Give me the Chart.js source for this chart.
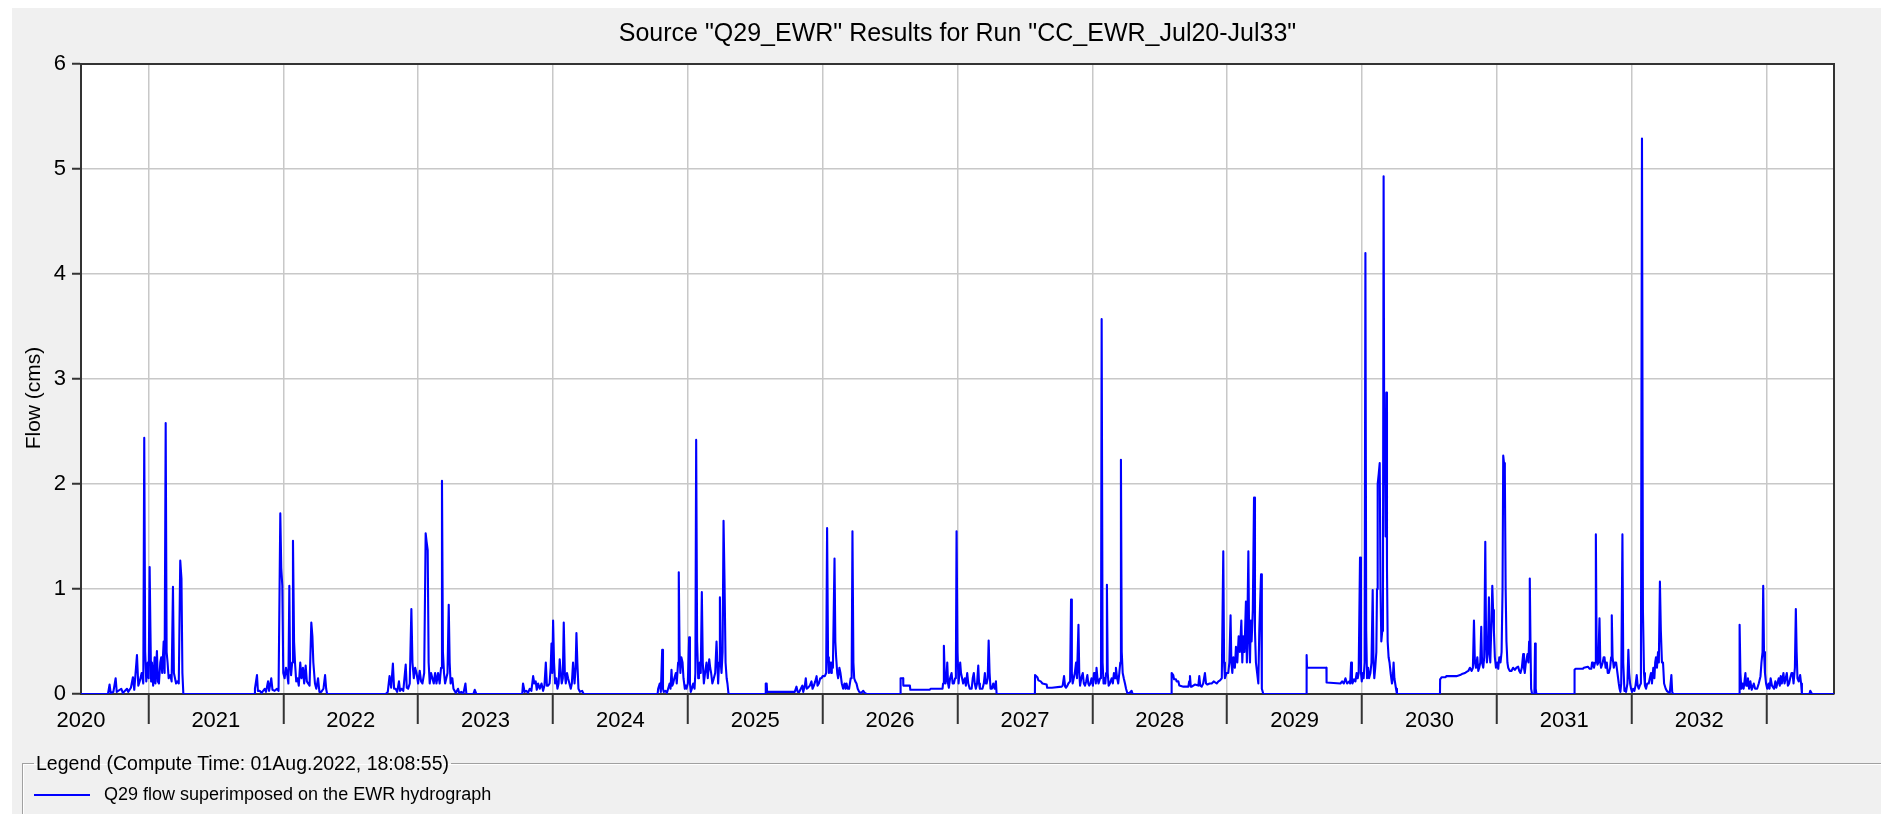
<!DOCTYPE html>
<html>
<head>
<meta charset="utf-8">
<title>Q29_EWR</title>
<script src="https://cdn.jsdelivr.net/npm/chart.js@4.4.1/dist/chart.umd.min.js"></script>
<style>
	html, body { margin: 0; padding: 0; width: 1881px; height: 814px; overflow: hidden; background: #fff; }
	#panel { position: absolute; left: 12px; top: 8px; right: 0; bottom: 0; background: #f0f0f0; }
	#flowChart { position: absolute; left: 0; top: 0; }
	#legendBox {
		position: absolute; left: 22px; top: 752px; width: 1880px; height: 90px;
		margin: 0; padding: 0 0 0 11px; box-sizing: border-box;
		border: 1px solid #a0a0a0; box-shadow: inset 1px 1px 0 #fff;
		font-family: "Liberation Sans", Arial, sans-serif; font-size: 19.5px; color: #000;
	}
	#legendBox legend { padding: 0 2px; margin: 0; line-height: 22px; }
	#legendBox .entry { margin-top: 9px; line-height: 22px; white-space: nowrap; font-size: 18px; }
	#legendBox .swatch { display: inline-block; width: 56px; height: 0; border-top: 2px solid #0000ff; vertical-align: middle; margin-right: 14px; }
</style>
</head>
<body>
<div id="panel"></div>
<canvas id="flowChart" width="1881" height="758"></canvas>
<fieldset id="legendBox">
	<legend>Legend (Compute Time: 01Aug.2022, 18:08:55)</legend>
	<div class="entry"><span class="swatch"></span>Q29 flow superimposed on the EWR hydrograph</div>
</fieldset>
<script>
// tick labels
var yearLabels = ['2020', '2021', '2022', '2023', '2024', '2025', '2026', '2027', '2028', '2029', '2030', '2031', '2032'];
var flowTicks = [0, 1, 2, 3, 4, 5, 6];

var season2020 = [[2020.5,0],[2020.700,0],[2020.712,0.09],[2020.720,0.01],[2020.740,0.02],[2020.757,0.15],[2020.765,0.02],[2020.799,0.05],[2020.810,0.01],[2020.841,0.05],[2020.850,0.02],[2020.870,0.06],[2020.885,0.16],[2020.895,0.04],[2020.915,0.37],[2020.925,0.08],[2020.935,0.12],[2020.950,0.2],[2020.962,0.1],[2020.969,2.44],[2020.976,0.4],[2020.984,0.12],[2020.995,0.3],[2021.002,0.15],[2021.009,1.21],[2021.015,0.6],[2021.020,0.12],[2021.026,0.3],[2021.035,0.08],[2021.046,0.35],[2021.052,0.1],[2021.063,0.41],[2021.070,0.12],[2021.078,0.1],[2021.088,0.3],[2021.095,0.35],[2021.102,0.2],[2021.113,0.5],[2021.120,0.2],[2021.128,2.58],[2021.135,0.4],[2021.142,0.3],[2021.150,0.15],[2021.162,0.18],[2021.172,0.12],[2021.182,1.02],[2021.189,0.2],[2021.197,0.15],[2021.205,0.1],[2021.214,0.12],[2021.225,0.1],[2021.236,1.27],[2021.245,1.1],[2021.252,0.2],[2021.259,0]];
var season2021 = [[2021.785,0],[2021.790,0.05],[2021.805,0.18],[2021.812,0.03],[2021.825,0.03],[2021.840,0.01],[2021.862,0.05],[2021.872,0.02],[2021.887,0.12],[2021.895,0.03],[2021.911,0.15],[2021.920,0.04],[2021.936,0.03],[2021.953,0.05],[2021.965,0.03],[2021.978,1.72],[2021.985,1.2],[2021.993,1.03],[2022.000,0.2],[2022.010,0.15],[2022.020,0.25],[2022.028,0.2],[2022.038,0.1],[2022.045,1.03],[2022.050,0.3],[2022.058,0.18],[2022.066,0.3],[2022.072,1.46],[2022.080,0.5],[2022.087,0.3],[2022.096,0.12],[2022.106,0.15],[2022.115,0.08],[2022.126,0.3],[2022.135,0.15],[2022.146,0.25],[2022.155,0.1],[2022.166,0.27],[2022.175,0.12],[2022.184,0.1],[2022.195,0.08],[2022.208,0.68],[2022.216,0.55],[2022.223,0.3],[2022.235,0.1],[2022.245,0.05],[2022.258,0.15],[2022.268,0.02],[2022.282,0.02],[2022.298,0.05],[2022.310,0.18],[2022.318,0.05],[2022.325,0]];
var season2022 = [[2022.760,0],[2022.775,0.02],[2022.788,0.17],[2022.800,0.06],[2022.813,0.29],[2022.822,0.05],[2022.833,0.05],[2022.845,0.02],[2022.858,0.12],[2022.866,0.03],[2022.876,0.05],[2022.890,0.03],[2022.908,0.28],[2022.916,0.06],[2022.926,0.05],[2022.938,0.1],[2022.950,0.81],[2022.958,0.3],[2022.968,0.15],[2022.978,0.25],[2022.988,0.2],[2023.000,0.1],[2023.012,0.22],[2023.022,0.12],[2023.032,0.1],[2023.045,0.2],[2023.056,1.53],[2023.063,1.45],[2023.071,1.37],[2023.078,0.3],[2023.086,0.1],[2023.096,0.2],[2023.106,0.15],[2023.116,0.1],[2023.126,0.2],[2023.136,0.1],[2023.148,0.2],[2023.160,0.1],[2023.170,0.25],[2023.177,2.03],[2023.184,0.4],[2023.192,0.2],[2023.200,0.1],[2023.209,0.15],[2023.218,0.2],[2023.227,0.85],[2023.234,0.3],[2023.241,0.1],[2023.248,0.15],[2023.254,0.15],[2023.262,0.05],[2023.271,0.03],[2023.280,0.01],[2023.296,0.05],[2023.305,0.01],[2023.321,0.02],[2023.335,0],[2023.351,0.1],[2023.358,0],[2023.410,0],[2023.420,0.04],[2023.432,0]];
var season2023 = [[2023.772,0],[2023.778,0.1],[2023.790,0.02],[2023.803,0.03],[2023.815,0.01],[2023.828,0.05],[2023.840,0.03],[2023.853,0.17],[2023.862,0.1],[2023.872,0.12],[2023.880,0.04],[2023.890,0.1],[2023.902,0.05],[2023.915,0.1],[2023.927,0.03],[2023.937,0.08],[2023.947,0.3],[2023.955,0.08],[2023.964,0.08],[2023.975,0.1],[2023.983,0.25],[2023.989,0.48],[2023.995,0.2],[2024.001,0.7],[2024.008,0.3],[2024.016,0.1],[2024.025,0.15],[2024.033,0.05],[2024.042,0.1],[2024.050,0.33],[2024.058,0.2],[2024.065,0.1],[2024.073,0.15],[2024.080,0.68],[2024.088,0.2],[2024.095,0.1],[2024.104,0.2],[2024.112,0.15],[2024.122,0.1],[2024.132,0.05],[2024.140,0.1],[2024.149,0.3],[2024.160,0.1],[2024.168,0.25],[2024.174,0.58],[2024.181,0.3],[2024.189,0.05],[2024.200,0.02],[2024.216,0.03],[2024.228,0]];
var season2024 = [[2024.776,0],[2024.780,0.05],[2024.792,0.1],[2024.800,0.02],[2024.810,0.42],[2024.816,0.05],[2024.822,0.02],[2024.835,0.03],[2024.845,0.01],[2024.854,0.05],[2024.865,0.1],[2024.872,0.05],[2024.879,0.23],[2024.885,0.08],[2024.891,0.1],[2024.900,0.15],[2024.911,0.2],[2024.918,0.1],[2024.928,0.3],[2024.933,1.16],[2024.939,0.4],[2024.945,0.2],[2024.952,0.35],[2024.961,0.3],[2024.968,0.15],[2024.978,0.05],[2024.984,0.08],[2024.990,0.05],[2025.000,0.1],[2025.010,0.54],[2025.016,0.1],[2025.022,0.02],[2025.030,0.05],[2025.040,0.1],[2025.050,0.05],[2025.056,0.2],[2025.062,2.42],[2025.069,0.5],[2025.077,0.15],[2025.083,0.2],[2025.089,0.3],[2025.096,0.2],[2025.104,0.97],[2025.111,0.3],[2025.119,0.1],[2025.128,0.2],[2025.139,0.3],[2025.148,0.15],[2025.159,0.33],[2025.166,0.25],[2025.173,0.2],[2025.182,0.1],[2025.193,0.15],[2025.203,0.2],[2025.213,0.5],[2025.219,0.3],[2025.225,0.1],[2025.232,0.3],[2025.238,0.92],[2025.244,0.3],[2025.250,0.2],[2025.258,0.4],[2025.265,1.65],[2025.272,1.1],[2025.280,0.3],[2025.288,0.15],[2025.294,0.1],[2025.302,0]];
var season2025 = [[2025.577,0],[2025.578,0.1],[2025.585,0.1],[2025.588,0.02],[2025.793,0.02],[2025.806,0.07],[2025.815,0.02],[2025.826,0.02],[2025.838,0.05],[2025.850,0.08],[2025.856,0.02],[2025.860,0.02],[2025.868,0.08],[2025.875,0.15],[2025.882,0.05],[2025.892,0.06],[2025.905,0.08],[2025.917,0.12],[2025.925,0.05],[2025.935,0.08],[2025.945,0.12],[2025.955,0.17],[2025.962,0.08],[2025.972,0.1],[2025.982,0.15],[2025.991,0.15],[2026.000,0.17],[2026.008,0.17],[2026.016,0.17],[2026.026,0.2],[2026.033,1.58],[2026.040,0.35],[2026.046,0.2],[2026.056,0.3],[2026.063,0.2],[2026.068,0.3],[2026.076,0.25],[2026.088,1.29],[2026.094,0.5],[2026.100,0.35],[2026.108,0.2],[2026.115,0.15],[2026.124,0.25],[2026.132,0.2],[2026.142,0.1],[2026.152,0.05],[2026.162,0.1],[2026.170,0.05],[2026.177,0.1],[2026.186,0.05],[2026.196,0.05],[2026.208,0.15],[2026.215,0.15],[2026.221,1.55],[2026.228,0.3],[2026.234,0.15],[2026.242,0.12],[2026.251,0.1],[2026.260,0.05],[2026.271,0.02],[2026.285,0.01],[2026.301,0.03],[2026.312,0.01],[2026.325,0]];
var season2026 = [[2026.577,0],[2026.578,0.15],[2026.597,0.15],[2026.598,0.08],[2026.647,0.08],[2026.650,0.04],[2026.795,0.04],[2026.800,0.05],[2026.889,0.05],[2026.893,0.1],[2026.899,0.46],[2026.905,0.2],[2026.911,0.1],[2026.918,0.15],[2026.924,0.3],[2026.930,0.1],[2026.936,0.06],[2026.945,0.15],[2026.956,0.2],[2026.964,0.1],[2026.973,0.1],[2026.982,0.15],[2026.988,0.2],[2026.993,1.55],[2027.000,0.4],[2027.008,0.1],[2027.014,0.2],[2027.020,0.3],[2027.026,0.2],[2027.032,0.2],[2027.042,0.1],[2027.054,0.15],[2027.062,0.08],[2027.072,0.2],[2027.080,0.1],[2027.091,0.05],[2027.105,0.05],[2027.113,0.15],[2027.121,0.2],[2027.128,0.1],[2027.136,0.05],[2027.145,0.1],[2027.154,0.27],[2027.160,0.1],[2027.166,0.05],[2027.185,0.05],[2027.195,0.1],[2027.203,0.2],[2027.210,0.1],[2027.216,0.1],[2027.224,0.15],[2027.231,0.51],[2027.238,0.2],[2027.245,0.05],[2027.255,0.05],[2027.265,0.1],[2027.275,0.05],[2027.285,0.12],[2027.290,0]];
var season2027 = [[2027.574,0],[2027.575,0.18],[2027.592,0.16],[2027.600,0.13],[2027.617,0.12],[2027.630,0.1],[2027.661,0.09],[2027.665,0.06],[2027.679,0.06],[2027.700,0.06],[2027.773,0.07],[2027.780,0.08],[2027.790,0.17],[2027.798,0.07],[2027.805,0.06],[2027.815,0.08],[2027.822,0.1],[2027.835,0.12],[2027.842,0.9],[2027.848,0.2],[2027.854,0.1],[2027.862,0.15],[2027.870,0.2],[2027.879,0.3],[2027.886,0.15],[2027.897,0.66],[2027.903,0.2],[2027.909,0.08],[2027.918,0.15],[2027.929,0.2],[2027.937,0.1],[2027.946,0.08],[2027.954,0.12],[2027.963,0.18],[2027.970,0.1],[2027.977,0.08],[2027.985,0.1],[2027.994,0.15],[2028.004,0.08],[2028.012,0.2],[2028.019,0.2],[2028.026,0.1],[2028.031,0.25],[2028.038,0.15],[2028.046,0.1],[2028.058,0.15],[2028.064,0.2],[2028.069,3.57],[2028.076,0.3],[2028.083,0.1],[2028.090,0.15],[2028.096,0.1],[2028.102,0.2],[2028.108,1.04],[2028.114,0.2],[2028.121,0.08],[2028.130,0.1],[2028.143,0.15],[2028.152,0.1],[2028.160,0.2],[2028.168,0.15],[2028.175,0.25],[2028.184,0.15],[2028.192,0.1],[2028.200,0.2],[2028.207,0.3],[2028.212,2.23],[2028.218,0.4],[2028.225,0.2],[2028.233,0.15],[2028.242,0.1],[2028.250,0.05],[2028.259,0.01],[2028.275,0.01],[2028.291,0.03],[2028.299,0]];
var season2028 = [[2028.587,0],[2028.588,0.2],[2028.600,0.18],[2028.606,0.14],[2028.620,0.14],[2028.625,0.12],[2028.638,0.12],[2028.645,0.08],[2028.675,0.07],[2028.712,0.07],[2028.718,0.12],[2028.724,0.17],[2028.730,0.07],[2028.737,0.07],[2028.760,0.09],[2028.786,0.08],[2028.793,0.17],[2028.800,0.08],[2028.811,0.07],[2028.822,0.1],[2028.835,0.2],[2028.843,0.1],[2028.853,0.09],[2028.870,0.1],[2028.885,0.1],[2028.900,0.12],[2028.922,0.1],[2028.935,0.12],[2028.947,0.13],[2028.960,0.15],[2028.971,1.36],[2028.977,0.3],[2028.983,0.15],[2028.995,0.2],[2029.008,0.2],[2029.016,0.3],[2029.025,0.75],[2029.031,0.3],[2029.038,0.2],[2029.046,0.35],[2029.057,0.25],[2029.065,0.45],[2029.075,0.3],[2029.085,0.55],[2029.094,0.4],[2029.105,0.7],[2029.112,0.3],[2029.119,0.55],[2029.128,0.4],[2029.139,0.88],[2029.146,0.3],[2029.157,1.36],[2029.163,0.5],[2029.169,0.3],[2029.175,0.7],[2029.181,0.5],[2029.190,0.8],[2029.199,1.87],[2029.206,0.6],[2029.213,0.3],[2029.222,0.2],[2029.231,0.1],[2029.238,0.6],[2029.251,1.14],[2029.256,0.3],[2029.258,0.05],[2029.268,0]];
var season2029 = [[2029.588,0],[2029.589,0.37],[2029.592,0.25],[2029.736,0.25],[2029.737,0.11],[2029.840,0.1],[2029.852,0.12],[2029.865,0.1],[2029.877,0.15],[2029.889,0.1],[2029.905,0.12],[2029.912,0.1],[2029.919,0.3],[2029.925,0.12],[2029.929,0.1],[2029.940,0.14],[2029.951,0.12],[2029.960,0.2],[2029.968,0.15],[2029.975,0.2],[2029.985,1.3],[2029.992,0.2],[2029.998,0.12],[2030.005,0.2],[2030.012,0.15],[2030.019,0.3],[2030.025,4.2],[2030.031,0.6],[2030.037,0.15],[2030.045,0.25],[2030.052,0.15],[2030.062,0.2],[2030.070,0.3],[2030.079,0.99],[2030.085,0.3],[2030.091,0.15],[2030.098,0.25],[2030.106,0.4],[2030.111,1.0],[2030.116,2.0],[2030.124,2.1],[2030.131,2.2],[2030.137,1.0],[2030.143,0.5],[2030.150,0.6],[2030.155,0.8],[2030.160,4.93],[2030.165,2.0],[2030.170,2.5],[2030.175,1.5],[2030.180,2.87],[2030.185,1.2],[2030.190,0.5],[2030.197,0.35],[2030.204,0.3],[2030.212,0.2],[2030.222,0.1],[2030.228,0.15],[2030.234,0.3],[2030.240,0.15],[2030.246,0.1],[2030.252,0.05],[2030.259,0]];
var season2030 = [[2030.578,0],[2030.579,0.14],[2030.591,0.16],[2030.620,0.16],[2030.625,0.17],[2030.653,0.17],[2030.700,0.17],[2030.727,0.18],[2030.740,0.19],[2030.764,0.2],[2030.775,0.21],[2030.788,0.22],[2030.800,0.25],[2030.813,0.22],[2030.822,0.25],[2030.830,0.7],[2030.837,0.3],[2030.845,0.25],[2030.855,0.35],[2030.862,0.22],[2030.869,0.25],[2030.877,0.3],[2030.884,0.64],[2030.890,0.3],[2030.899,0.25],[2030.906,0.35],[2030.914,1.45],[2030.920,0.5],[2030.926,0.3],[2030.933,0.4],[2030.941,0.92],[2030.946,0.4],[2030.951,0.3],[2030.958,0.6],[2030.966,1.03],[2030.972,0.8],[2030.978,0.6],[2030.985,0.35],[2030.993,0.25],[2031.002,0.3],[2031.010,0.24],[2031.018,0.35],[2031.027,0.3],[2031.035,0.4],[2031.042,1.0],[2031.047,2.27],[2031.053,2.2],[2031.059,2.1],[2031.065,1.0],[2031.071,0.5],[2031.078,0.3],[2031.084,0.25],[2031.095,0.22],[2031.108,0.22],[2031.120,0.25],[2031.133,0.23],[2031.145,0.25],[2031.158,0.26],[2031.166,0.22],[2031.175,0.2],[2031.185,0.25],[2031.195,0.38],[2031.201,0.25],[2031.207,0.2],[2031.215,0.3],[2031.227,0.38],[2031.234,0.3],[2031.239,0.5],[2031.244,1.1],[2031.249,0.5],[2031.254,0.05],[2031.261,0],[2031.278,0],[2031.283,0.48],[2031.288,0.05],[2031.293,0]];
var season2031 = [[2031.575,0],[2031.576,0.23],[2031.584,0.24],[2031.638,0.24],[2031.645,0.25],[2031.675,0.26],[2031.688,0.24],[2031.700,0.24],[2031.706,0.3],[2031.712,0.28],[2031.720,0.25],[2031.728,0.3],[2031.734,1.52],[2031.740,0.35],[2031.746,0.28],[2031.752,0.3],[2031.761,0.72],[2031.767,0.3],[2031.773,0.25],[2031.785,0.3],[2031.792,0.35],[2031.798,0.35],[2031.806,0.25],[2031.815,0.3],[2031.822,0.2],[2031.830,0.2],[2031.840,0.25],[2031.847,0.35],[2031.852,0.75],[2031.858,0.35],[2031.867,0.25],[2031.875,0.3],[2031.884,0.3],[2031.894,0.2],[2031.904,0.1],[2031.910,0.05],[2031.916,0.02],[2031.922,0.1],[2031.931,1.52],[2031.937,0.3],[2031.946,0.03],[2031.952,0.05],[2031.958,0.02],[2031.968,0.1],[2031.975,0.42],[2031.981,0.2],[2031.988,0.1],[2031.995,0.05],[2032.002,0.02],[2032.010,0.05],[2032.020,0.03],[2032.028,0.08],[2032.037,0.18],[2032.044,0.08],[2032.052,0.05],[2032.060,0.08],[2032.068,0.1],[2032.076,5.29],[2032.083,0.8],[2032.091,0.2],[2032.098,0.08],[2032.106,0.05],[2032.115,0.1],[2032.126,0.1],[2032.134,0.15],[2032.143,0.2],[2032.150,0.1],[2032.160,0.25],[2032.168,0.15],[2032.174,0.3],[2032.180,0.35],[2032.187,0.25],[2032.195,0.4],[2032.201,0.3],[2032.209,1.07],[2032.216,0.6],[2032.224,0.3],[2032.232,0.3],[2032.240,0.1],[2032.252,0.05],[2032.260,0.03],[2032.269,0.02],[2032.282,0.01],[2032.294,0.18],[2032.300,0.02],[2032.307,0]];
var season2032 = [[2032.798,0],[2032.800,0.66],[2032.806,0.2],[2032.813,0.05],[2032.822,0.1],[2032.830,0.05],[2032.843,0.2],[2032.849,0.08],[2032.855,0.08],[2032.862,0.15],[2032.870,0.05],[2032.880,0.12],[2032.890,0.04],[2032.905,0.1],[2032.915,0.05],[2032.930,0.05],[2032.942,0.1],[2032.955,0.17],[2032.962,0.3],[2032.970,0.4],[2032.975,1.03],[2032.981,0.4],[2032.988,0.2],[2032.996,0.1],[2033.005,0.05],[2033.015,0.1],[2033.022,0.05],[2033.030,0.15],[2033.040,0.08],[2033.055,0.05],[2033.065,0.12],[2033.072,0.06],[2033.080,0.1],[2033.090,0.15],[2033.098,0.08],[2033.105,0.17],[2033.113,0.1],[2033.125,0.2],[2033.133,0.1],[2033.142,0.15],[2033.150,0.2],[2033.158,0.08],[2033.167,0.1],[2033.175,0.15],[2033.185,0.2],[2033.192,0.2],[2033.200,0.1],[2033.210,0.25],[2033.217,0.81],[2033.223,0.4],[2033.229,0.15],[2033.238,0.12],[2033.249,0.18],[2033.256,0.1],[2033.262,0],[2033.318,0],[2033.324,0.03],[2033.337,0],[2033.5,0]];

var Hydro = Hydro || {};

Hydro.FlowChart = (function() {

	var AXIS_FONT = { family: '"Liberation Sans", Arial, sans-serif', size: 22 };
	var GRID_COLOR = '#c8c8c8';
	var AXIS_COLOR = '#333333';

	function FlowChart() {
		this.ctx = document.getElementById('flowChart');
	}

	FlowChart.prototype.start = function() {
		var seasons = [season2020, season2021, season2022, season2023, season2024, season2025, season2026,
			season2027, season2028, season2029, season2030, season2031, season2032];
		var points = [];
		seasons.forEach(function(season) {
			season.forEach(function(p) {
				points.push({ x: p[0], y: p[1] });
			});
		});

		// a tick on every Jan 1st (grid + long tick mark) and every Jul 1st (year label)
		var xMin = +yearLabels[0] + 0.5;
		var xMax = +yearLabels[yearLabels.length - 1] + 1.5;
		var xTicks = [];
		for (var v = xMin; v <= xMax; v += 0.5) {
			xTicks.push({ value: v });
		}

		new Chart(this.ctx, {
			type: 'line',
			data: {
				datasets: [{
					label: 'Q29 flow superimposed on the EWR hydrograph',
					data: points,
					borderColor: '#0000ff',
					borderWidth: 2.1,
					borderJoinStyle: 'round',
					pointRadius: 0,
					tension: 0,
					fill: false
				}]
			},
			options: {
				responsive: false,
				animation: false,
				devicePixelRatio: 1,
				parsing: false,
				layout: { padding: { left: 0, right: 47, top: 0, bottom: 0 } },
				plugins: {
					legend: { display: false },
					tooltip: { enabled: false },
					title: {
						display: true,
						fullSize: false,
						text: 'Source "Q29_EWR" Results for Run "CC_EWR_Jul20-Jul33"',
						color: '#000',
						font: { family: AXIS_FONT.family, size: 25, weight: 'normal' },
						padding: { top: 19, bottom: 15 }
					}
				},
				scales: {
					x: {
						type: 'linear',
						min: xMin,
						max: xMax,
						afterBuildTicks: function(scale) { scale.ticks = xTicks; },
						afterFit: function(scale) { scale.height = 64; },
						border: { display: true, color: AXIS_COLOR, width: 2 },
						grid: {
							lineWidth: 1.5,
							tickLength: 30,
							tickWidth: 2,
							color: function(c) {
								return c.tick && Number.isInteger(c.tick.value) ? GRID_COLOR : 'rgba(0,0,0,0)';
							},
							tickColor: function(c) {
								return c.tick && Number.isInteger(c.tick.value) ? AXIS_COLOR : 'rgba(0,0,0,0)';
							}
						},
						ticks: {
							autoSkip: false,
							maxRotation: 0,
							padding: -16,
							color: '#000',
							font: AXIS_FONT,
							callback: function(value) {
								if (Number.isInteger(value)) return '';
								var i = Math.floor(value) - +yearLabels[0];
								return yearLabels[i] || '';
							}
						}
					},
					y: {
						min: flowTicks[0],
						max: flowTicks[flowTicks.length - 1],
						afterBuildTicks: function(scale) {
							scale.ticks = flowTicks.map(function(t) { return { value: t }; });
						},
						afterFit: function(scale) { scale.width = 81; },
						border: { display: true, color: AXIS_COLOR, width: 2 },
						grid: { color: GRID_COLOR, lineWidth: 1.5, tickLength: 9, tickColor: AXIS_COLOR, tickWidth: 2 },
						ticks: { padding: 6, color: '#000', font: AXIS_FONT }
					}
				}
			},
			plugins: [plotFrame]
		});
	}

	// white plot background, top/right frame and the y axis caption
	var plotFrame = {
		id: 'plotFrame',
		beforeDraw: function(chart) {
			var a = chart.chartArea, c = chart.ctx;
			c.save();
			c.fillStyle = '#ffffff';
			c.fillRect(a.left, a.top, a.right - a.left, a.bottom - a.top);
			c.restore();
		},
		beforeDatasetsDraw: function(chart) {
			var a = chart.chartArea, c = chart.ctx;
			c.save();
			c.strokeStyle = AXIS_COLOR;
			c.lineWidth = 2;
			c.beginPath();
			c.moveTo(a.left, a.top);
			c.lineTo(a.right, a.top);
			c.lineTo(a.right, a.bottom);
			c.stroke();
			c.restore();
		},
		afterDraw: function(chart) {
			var c = chart.ctx;
			c.save();
			c.translate(34, 398);
			c.rotate(-Math.PI / 2);
			c.fillStyle = '#000';
			c.font = '21px "Liberation Sans", Arial, sans-serif';
			c.textAlign = 'center';
			c.textBaseline = 'middle';
			c.fillText('Flow (cms)', 0, 0);
			c.restore();
		}
	};

	return FlowChart;
}());

window.addEventListener('load', function() {
	var flowChart = new Hydro.FlowChart();
	flowChart.start();
});
</script>
</body>
</html>
